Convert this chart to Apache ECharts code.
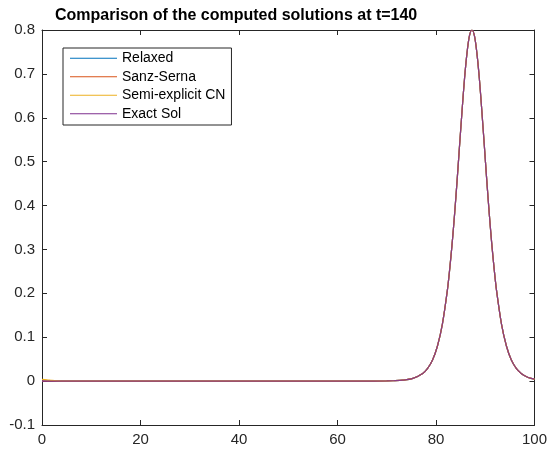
<!DOCTYPE html>
<html>
<head>
<meta charset="utf-8">
<script src="https://cdn.jsdelivr.net/npm/echarts@6/dist/echarts.min.js"></script>
<style>
html,body{margin:0;padding:0;background:#fff;}
#chart{width:550px;height:451px;}
</style>
</head>
<body>
<div id="chart"></div>
<script>
var xValues = [0, 1, 2, 3, 5, 10, 20, 30, 40, 50, 60, 65, 70, 71.3, 73.3, 75.3, 77.3, 78.3, 79.3, 80.3, 81.3, 82.3, 82.8, 83.3, 83.8, 84.3, 84.8, 85.3, 85.8, 86.3, 86.8, 87.3, 87.8, 88.3, 88.8, 89.3, 89.8, 90.3, 90.8, 91.3, 91.8, 92.3, 93.3, 94.3, 95.3, 96.3, 97.3, 98.3, 99.3, 100];
var exactSol = [0, 0, 0, 0, 0, 0, 0, 0, 0, 0, 0, 0, 0.0004, 0.0008, 0.0022, 0.0062, 0.0175, 0.029, 0.048, 0.080, 0.130, 0.206, 0.257, 0.316, 0.384, 0.459, 0.539, 0.617, 0.690, 0.748, 0.787, 0.800, 0.787, 0.748, 0.690, 0.617, 0.539, 0.459, 0.384, 0.316, 0.257, 0.206, 0.130, 0.080, 0.048, 0.029, 0.0175, 0.0105, 0.0062, 0.0044];
var relaxed = [0, 0, 0, 0, 0, 0, 0, 0, 0, 0, 0, 0, 0.0004, 0.0008, 0.0022, 0.0062, 0.0175, 0.029, 0.048, 0.080, 0.130, 0.206, 0.257, 0.316, 0.384, 0.459, 0.539, 0.617, 0.690, 0.748, 0.787, 0.800, 0.787, 0.748, 0.690, 0.617, 0.539, 0.459, 0.384, 0.316, 0.257, 0.206, 0.130, 0.080, 0.048, 0.029, 0.0175, 0.0105, 0.0062, 0.0044];
var sanzSerna = [0, 0, 0, 0, 0, 0, 0, 0, 0, 0, 0, 0, 0.0004, 0.0008, 0.0022, 0.0062, 0.0175, 0.029, 0.048, 0.080, 0.130, 0.206, 0.257, 0.316, 0.384, 0.459, 0.539, 0.617, 0.690, 0.748, 0.787, 0.800, 0.787, 0.748, 0.690, 0.617, 0.539, 0.459, 0.384, 0.316, 0.257, 0.206, 0.130, 0.080, 0.048, 0.029, 0.0175, 0.0105, 0.0062, 0.0044];
var semiExplicitCN = [0.004, 0.003, 0.0015, 0.0005, 0, 0, 0, 0, 0, 0, 0, 0, 0.0004, 0.0008, 0.0022, 0.0062, 0.0175, 0.029, 0.048, 0.080, 0.130, 0.206, 0.257, 0.316, 0.384, 0.459, 0.539, 0.617, 0.690, 0.748, 0.787, 0.800, 0.787, 0.748, 0.690, 0.617, 0.539, 0.459, 0.384, 0.316, 0.257, 0.206, 0.130, 0.080, 0.048, 0.029, 0.0175, 0.0105, 0.0062, 0.0044];
var seriesNames = ['Relaxed', 'Sanz-Serna', 'Semi-explicit CN', 'Exact Sol'];
var seriesColors = ['#0072BD', '#D95319', '#EDB120', '#7E2F8E'];
var titleText = 'Comparison of the computed solutions at t=140';

function pairs(ys) { return xValues.map(function (x, i) { return [x, ys[i]]; }); }
var seriesData = [relaxed, sanzSerna, semiExplicitCN, exactSol];

var axisColor = '#262626';
var font = 'Liberation Sans, Arial, Helvetica, sans-serif';
function yFmt(v) { if (Math.abs(v) < 1e-9) return '0'; return String(parseFloat(v.toFixed(1))); }

var chart = echarts.init(document.getElementById('chart'), null, {renderer: 'canvas'});
chart.setOption({
  animation: false,
  backgroundColor: '#ffffff',
  title: {
    text: titleText,
    left: 50, top: 3,
    textStyle: {fontFamily: font, fontSize: 16, fontWeight: 'bold', color: '#000'}
  },
  legend: {
    orient: 'vertical',
    left: 63, top: 48,
    padding: [2, 6, 3, 7],
    itemGap: 2,
    itemWidth: 47, itemHeight: 1,
    icon: 'rect',
    borderColor: axisColor, borderWidth: 1,
    backgroundColor: '#fff',
    textStyle: {fontFamily: font, fontSize: 14, color: '#000', lineHeight: 16.5},
    data: seriesNames
  },
  grid: {left: 42, right: 14, top: 30, bottom: 26, containLabel: false},
  xAxis: [{
    type: 'value', min: 0, max: 100, interval: 20,
    axisLine: {show: true, onZero: false, lineStyle: {color: axisColor, width: 1}},
    axisTick: {show: true, inside: true, length: 5, lineStyle: {color: axisColor}},
    axisLabel: {color: axisColor, fontFamily: font, fontSize: 15, margin: 7},
    splitLine: {show: false}
  }, {
    type: 'value', min: 0, max: 100, interval: 20, position: 'top',
    axisLine: {show: true, onZero: false, lineStyle: {color: axisColor, width: 1}},
    axisTick: {show: true, inside: true, length: 5, lineStyle: {color: axisColor}},
    axisLabel: {show: false}, splitLine: {show: false}
  }],
  yAxis: [{
    type: 'value', min: -0.1, max: 0.8, interval: 0.1,
    axisLine: {show: true, onZero: false, lineStyle: {color: axisColor, width: 1}},
    axisTick: {show: true, inside: true, length: 5, lineStyle: {color: axisColor}},
    axisLabel: {color: axisColor, fontFamily: font, fontSize: 15, margin: 7, formatter: yFmt},
    splitLine: {show: false}
  }, {
    type: 'value', min: -0.1, max: 0.8, interval: 0.1, position: 'right',
    axisLine: {show: true, onZero: false, lineStyle: {color: axisColor, width: 1}},
    axisTick: {show: true, inside: true, length: 5, lineStyle: {color: axisColor}},
    axisLabel: {show: false}, splitLine: {show: false}
  }],
  series: seriesNames.map(function (n, i) {
    return {
      name: n, type: 'line', xAxisIndex: 0, yAxisIndex: 0,
      data: pairs(seriesData[i]),
      smooth: 0.3, showSymbol: false, symbol: 'none',
      color: seriesColors[i],
      lineStyle: {color: seriesColors[i], width: 1.2, opacity: i === 3 ? 0.9 : 1}
    };
  })
});
</script>
</body>
</html>
